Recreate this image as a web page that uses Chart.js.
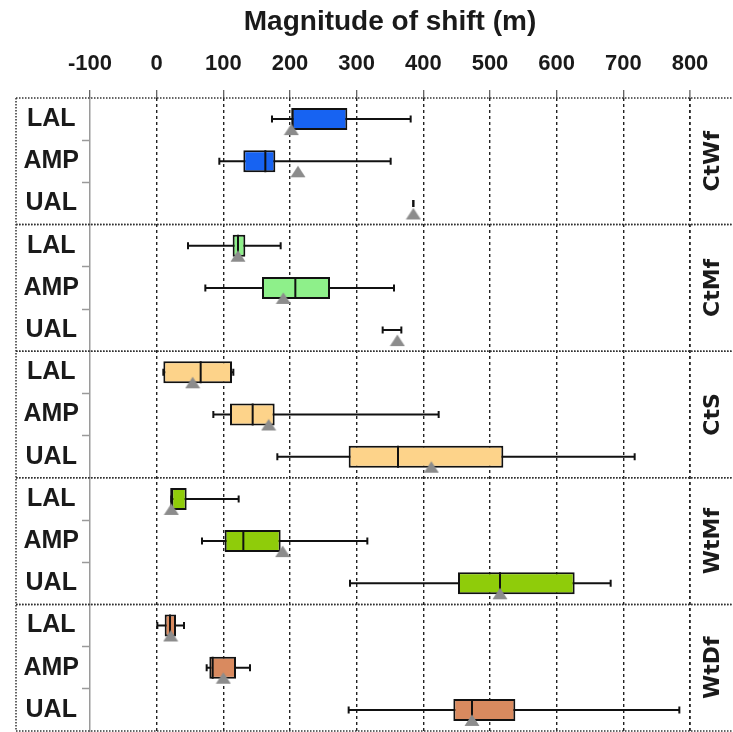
<!DOCTYPE html>
<html>
<head>
<meta charset="utf-8">
<script src="https://cdn.jsdelivr.net/npm/chart.js@4.4.1/dist/chart.umd.min.js"></script>
<style>
  html, body { margin: 0; padding: 0; background: #fff; }
  canvas { display: block; }
</style>
</head>
<body>
<canvas id="chart" width="733" height="732"></canvas>
<script>
// Panels (top to bottom) and the rows inside each panel
const panels = ['CtWf', 'CtMf', 'CtS', 'WtMf', 'WtDf'];
const rows = ['LAL', 'AMP', 'UAL'];
const xTicks = [-100, 0, 100, 200, 300, 400, 500, 600, 700, 800];

// Box-plot statistics, one inner array per panel, one entry per row (m)
const lowWhisker    = [[173, 94, 385], [47, 73, 339], [10, 85, 181], [22, 68, 290], [1, 75, 288]];
const lowerQuartile = [[202, 130, null], [114, 158, null], [10, 110, 288], [22, 102, 452], [12, 79, 445]];
const median        = [[204, 163, null], [122, 208, null], [66, 144, 362], [22, 130, 515], [20, 84, 473]];
const upperQuartile = [[286, 178, null], [133, 260, null], [113, 177, 520], [45, 186, 627], [29, 119, 538]];
const highWhisker   = [[381, 351, 385], [186, 356, 367], [115, 423, 717], [123, 316, 681], [41, 140, 784]];
const mean          = [[202, 212, 385], [122, 190, 361], [54, 168, 412], [22, 189, 515], [21, 100, 473]];

const boxFills = ['#1763f2', '#8ef08a', '#fdd38a', '#8fcc0a', '#d98a5f'];
const ink = '#1a1a1a';
const sans = '"Liberation Sans", Arial, sans-serif';

// Grey triangle for the mean, drawn just below the row centre
function meanMarker() {
  const c = document.createElement('canvas');
  c.width = 16; c.height = 34;
  const g = c.getContext('2d');
  g.fillStyle = '#8c8c8c';
  g.beginPath();
  g.moveTo(8, 21.5);
  g.lineTo(15.5, 33);
  g.lineTo(0.5, 33);
  g.closePath();
  g.fill();
  return c;
}
const triangle = meanMarker();

const datasets = [];
panels.forEach((name, p) => {
  const yAxisID = 'y' + p;
  // whisker line
  datasets.push({
    type: 'bar', label: name + ' range', yAxisID, xAxisID: 'x',
    data: rows.map((r, i) => [lowWhisker[p][i], highWhisker[p][i]]),
    barThickness: 2, backgroundColor: '#111', borderWidth: 0,
    grouped: false, inflateAmount: 0, order: 5
  });
  // interquartile box
  datasets.push({
    type: 'bar', label: name + ' IQR', yAxisID, xAxisID: 'x',
    data: rows.map((r, i) => lowerQuartile[p][i] == null ? null : [lowerQuartile[p][i], upperQuartile[p][i]]),
    barThickness: 22, backgroundColor: boxFills[p], borderColor: '#111',
    borderWidth: 2, borderSkipped: false, grouped: false, inflateAmount: 0, order: 4
  });
  // whisker caps
  const caps = [];
  rows.forEach((r, i) => {
    caps.push({ x: lowWhisker[p][i], y: r });
    caps.push({ x: highWhisker[p][i], y: r });
  });
  datasets.push({
    type: 'scatter', label: name + ' caps', yAxisID, xAxisID: 'x', data: caps,
    pointStyle: 'line', pointRotation: 90, pointRadius: 3.5,
    pointBorderWidth: 2, pointBorderColor: '#111', order: 3
  });
  // median
  datasets.push({
    type: 'scatter', label: name + ' median', yAxisID, xAxisID: 'x',
    data: rows.map((r, i) => ({ x: median[p][i], y: r })).filter(d => d.x != null),
    pointStyle: 'line', pointRotation: 90, pointRadius: 11,
    pointBorderWidth: 2, pointBorderColor: '#111', order: 2
  });
  // mean
  datasets.push({
    type: 'scatter', label: name + ' mean', yAxisID, xAxisID: 'x',
    data: rows.map((r, i) => ({ x: mean[p][i], y: r })),
    pointStyle: triangle, pointRadius: 8, order: 1
  });
});

const scales = {
  x: {
    type: 'linear', position: 'top',
    min: xTicks[0], max: xTicks[xTicks.length - 1],
    afterBuildTicks: s => { s.ticks = xTicks.map(v => ({ value: v })); },
    ticks: { font: { family: sans, size: 22, weight: 'bold' }, color: ink, padding: 12.5 },
    grid: {
      color: c => (c.tick && c.tick.value === xTicks[0]) ? 'rgba(0,0,0,0)' : '#222',
      lineWidth: c => (c.tick && c.tick.value === xTicks[xTicks.length - 1]) ? 1.8 : 1.4,
      tickLength: 8, tickColor: '#555', tickWidth: 1.2, tickBorderDash: []
    },
    border: { display: false, dash: [3, 3] },
    title: {
      display: true, text: 'Magnitude of shift (m)', color: ink,
      font: { family: sans, size: 28, weight: 'bold' },
      padding: { top: 5, bottom: 0 }
    }
  }
};
panels.forEach((name, p) => {
  scales['y' + p] = {
    type: 'category', labels: rows, position: 'left',
    stack: 'panels', stackWeight: 1, weight: panels.length - p, offset: true,
    grid: {
      offset: true, drawOnChartArea: false, tickLength: 8, tickWidth: 1.5,
      tickColor: c => (c.type === 'tick' && c.index > 0) ? '#9a9a9a' : 'rgba(0,0,0,0)'
    },
    border: { display: true, color: '#9a9a9a', width: 1.5 },
    ticks: {
      autoSkip: false, crossAlign: 'center', padding: 3, color: ink,
      font: { family: sans, size: 25, weight: 'bold' }
    },
    afterFit: s => { s.width = 74; s.paddingTop = 0; s.paddingBottom = 0; }
  };
});

// Dotted panel frame and the rotated panel names on the right
const panelFrame = {
  id: 'panelFrame',
  afterDraw(chart) {
    const ctx = chart.ctx;
    const axes = panels.map((n, p) => chart.scales['y' + p]);
    const left = Math.min(...axes.map(a => a.left));
    const right = chart.width;
    const top = Math.min(...axes.map(a => a.top));
    const bottom = Math.max(...axes.map(a => a.bottom));
    ctx.save();
    ctx.strokeStyle = '#333';
    ctx.lineWidth = 1.5;
    ctx.setLineDash([1.5, 1.5]);
    axes.forEach(a => {
      [a.top, a.bottom].forEach(y => {
        ctx.beginPath(); ctx.moveTo(left, y); ctx.lineTo(right, y); ctx.stroke();
      });
    });
    ctx.beginPath(); ctx.moveTo(left, top); ctx.lineTo(left, bottom); ctx.stroke();
    ctx.setLineDash([]);
    ctx.fillStyle = ink;
    ctx.font = 'bold 22px "DejaVu Sans", sans-serif';
    ctx.textAlign = 'center';
    ctx.textBaseline = 'middle';
    const xMid = (chart.chartArea.right + chart.width) / 2 + 2;
    axes.forEach((a, p) => {
      ctx.save();
      ctx.translate(xMid, (a.top + a.bottom) / 2);
      ctx.rotate(-Math.PI / 2);
      ctx.fillText(panels[p], 0, 0);
      ctx.restore();
    });
    ctx.restore();
  }
};

new Chart(document.getElementById('chart'), {
  type: 'bar',
  data: { labels: rows, datasets },
  options: {
    indexAxis: 'y',
    responsive: false,
    animation: false,
    events: [],
    devicePixelRatio: 1,
    layout: { autoPadding: false, padding: { left: 16, right: 43, top: 0, bottom: 1 } },
    plugins: { legend: { display: false }, tooltip: { enabled: false } },
    scales
  },
  plugins: [panelFrame]
});
</script>
</body>
</html>
